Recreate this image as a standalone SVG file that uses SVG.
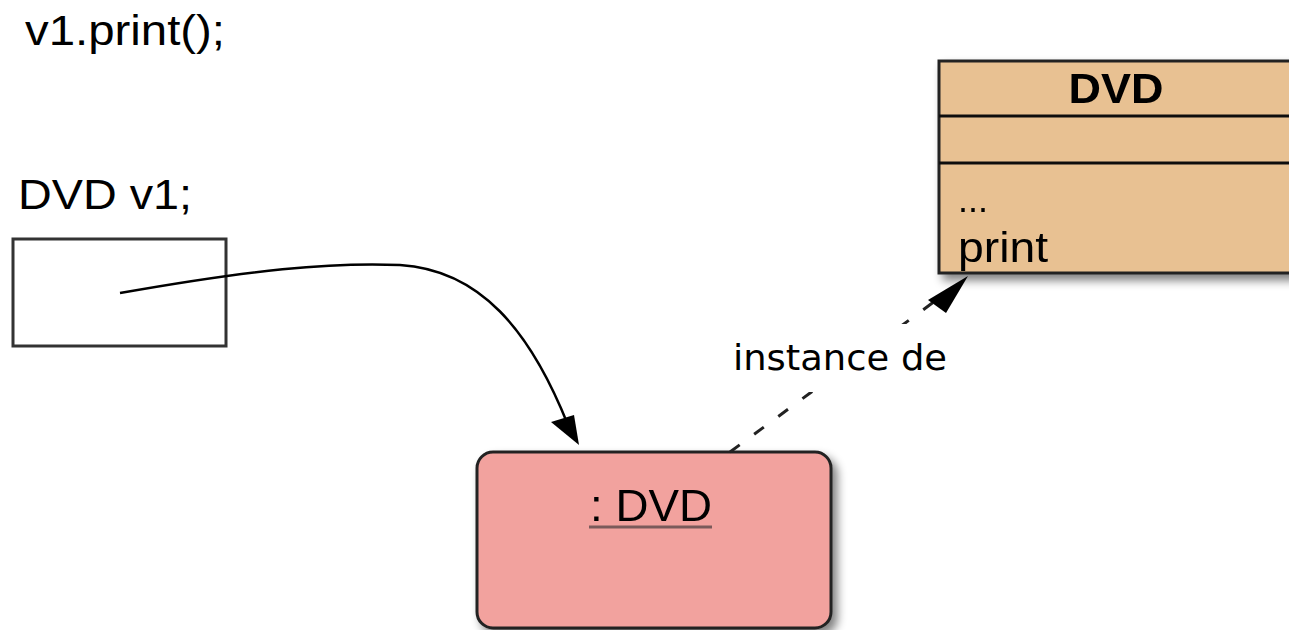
<svg xmlns="http://www.w3.org/2000/svg" width="1289" height="630" viewBox="0 0 1289 630">
<style>
.t{font-family:"Liberation Sans",Arial,sans-serif;fill:#000}
.l{font-family:"DejaVu Sans",sans-serif;fill:#000}
</style>
<defs>
<filter id="sh" x="-10%" y="-10%" width="130%" height="130%">
<feGaussianBlur in="SourceAlpha" stdDeviation="5"/>
<feOffset dx="5" dy="6" result="b"/>
<feComponentTransfer><feFuncA type="linear" slope="0.5"/></feComponentTransfer>
<feMerge><feMergeNode/><feMergeNode in="SourceGraphic"/></feMerge>
</filter>
</defs>
<rect width="1289" height="630" fill="#fff"/>
<g id="code">
<text class="t" x="25" y="45" font-size="42" textLength="200" lengthAdjust="spacingAndGlyphs">v1.print();</text>
</g>
<g id="var-v1">
<text class="t" x="18" y="209" font-size="42" textLength="174" lengthAdjust="spacingAndGlyphs">DVD v1;</text>
<rect x="13" y="239" width="213" height="107" fill="#fff" stroke="#333" stroke-width="3"/>
</g>
<g id="class-dvd" filter="url(#sh)">
<rect x="939" y="61" width="360" height="212" fill="#e8c192" stroke="#222" stroke-width="3"/>
<line x1="939" y1="116" x2="1299" y2="116" stroke="#111" stroke-width="3"/>
<line x1="939" y1="163" x2="1299" y2="163" stroke="#111" stroke-width="3"/>
<text class="t" x="1116" y="103" font-size="42" font-weight="bold" text-anchor="middle" textLength="95" lengthAdjust="spacingAndGlyphs">DVD</text>
<text class="t" x="958" y="212" font-size="36">...</text>
<text class="t" x="958" y="262" font-size="42" textLength="90" lengthAdjust="spacingAndGlyphs">print</text>
</g>
<g id="object-dvd" filter="url(#sh)">
<rect x="477" y="452" width="354" height="176" rx="16" fill="#f2a29e" stroke="#222" stroke-width="3"/>
<text class="t" x="651" y="521" font-size="44" text-anchor="middle" textLength="122" lengthAdjust="spacingAndGlyphs">: DVD</text>
<line x1="589" y1="527" x2="712" y2="527" stroke="#7a5a5a" stroke-width="3"/>
</g>
<g id="connectors">
<path d="M120,293 C250,270 330,262 400,265 C480,270 530,330 568,425" fill="none" stroke="#000" stroke-width="2.5"/>
<polygon points="579,445 551,422 574,415" fill="#000"/>
<path d="M730,452 L950,290" fill="none" stroke="#222" stroke-width="3" stroke-dasharray="12,18"/>
<polygon points="968,276 928,300 946,313" fill="#000"/>
<rect x="760" y="324" width="150" height="68" fill="#fff"/>
<text class="l" x="733" y="370" font-size="36" textLength="214" lengthAdjust="spacingAndGlyphs">instance de</text>
</g>
</svg>
